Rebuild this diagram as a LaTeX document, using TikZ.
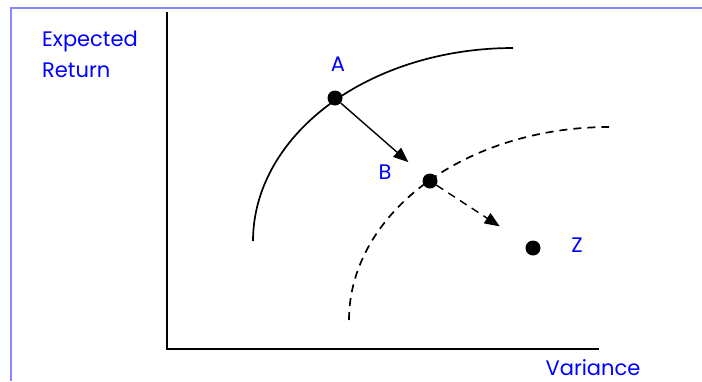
\documentclass[tikz,border=0pt]{standalone}
\usepackage{fontspec}
\setmainfont{Poppins}
\usetikzlibrary{arrows.meta}
\definecolor{frameblue}{RGB}{135,135,255}
\definecolor{labelblue}{RGB}{0,0,255}
\tikzset{
  dot/.style={circle, fill=black, minimum size=15pt, inner sep=0pt},
  lbl/.style={text=labelblue, font=\fontsize{21}{24}\selectfont, inner sep=0pt, anchor=base},
  curve/.style={line width=1.7pt},
  tip/.style={-{Triangle[length=15pt,width=12pt]}, line width=1.4pt},
}
\begin{document}
\begin{tikzpicture}[x=1pt,y=-1pt]
\useasboundingbox (0,0) rectangle (702,381);
\fill[white] (0,0) rectangle (702,381);
% frame
\draw[frameblue, line width=1.5pt] (11,381) -- (11,8) -- (702,8);
% axes
\coordinate (ytop) at (167,12);
\coordinate (origin) at (167,349);
\coordinate (xend) at (599,349);
\draw[line width=2pt] (ytop) -- (origin) -- (xend);
% curves
\draw[curve] plot[domain=180:90, samples=80] ({513+260*cos(\x)},{241-193*sin(\x)});
\draw[curve, dash pattern=on 8pt off 6pt] plot[domain=180:90, samples=80] ({609+260*cos(\x)},{320-193*sin(\x)});
% points
\node[dot] (A) at (335,98) {};
\node[dot] (B) at (430,181) {};
\node[dot] (Z) at (533,248) {};
% arrows
\draw[tip, shorten >=21pt] (A) -- (B);
\draw[tip, dash pattern=on 8pt off 6pt, shorten >=32pt] (B) -- (Z);
% labels
\node[lbl] (la) at (338,71) {A};
\node[lbl] (lb) at (385,179) {B};
\node[lbl] (lz) at (577,252) {Z};
\node[lbl, anchor=base west] (exp) at (42,46) {Expected};
\node[lbl, anchor=base west] (ret) at (42,77) {Return};
\node[lbl, text depth=0pt] (var) at (593,375) {Variance};
\end{tikzpicture}
\end{document}
